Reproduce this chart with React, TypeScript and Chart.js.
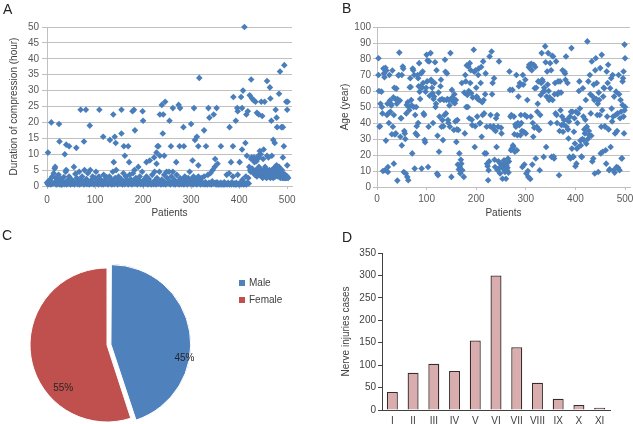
import React, { useEffect, useRef } from "react";
import { Chart, registerables } from "chart.js";

Chart.register(...registerables);

const FONT = "'Liberation Sans', Arial, Helvetica, sans-serif";
const FS = 10;
Chart.defaults.font.family = FONT;
Chart.defaults.font.size = FS;

// ---------- DATA ----------
const patientTicks = [0, 100, 200, 300, 400, 500];

// Panel A: duration of compression (hour) per patient – higher values
const durationHigh: [number, number][] = [
  [2,10.5],[9,20],[25,19.5],[26,14],[37,10],[40,13],[46,12.5],[40,5],[61,12],[70,24],[81,24],[77,14],[89,19],
  [109,24],[117,15.5],[131,14.5],[138,22.5],[141,15.5],[143,13.5],[139,7.5],[155,24],[155,16.5],[160,12.5],
  [162,9.5],[169,12.5],[171,7.5],[178,23.5],[181,24],[183,17.5],[199,23.5],[200,20.5],[207,7.5],[214,8],[223,9],
  [228,10.5],[230,12.5],[232,12.5],[228,7],[235,22.5],[239,25.5],[241,16.5],[242,22.5],[246,26.5],[235,9.5],
  [244,9.5],[255,20.5],[258,12.5],[262,24.5],[269,7.5],[274,25.5],[277,24.5],[276,12.5],[284,18.5],[285,12.5],
  [300,19.5],[303,8],[306,24.5],[308,14.5],[312,15.5],[315,12.5],[315,6.5],[317,34],[327,17.5],[331,12.5],
  [336,24.5],[338,21.5],[347,22.5],[350,8.5],[353,24.5],[355,7],[362,12.5],[380,18.5],[383,7.5],[388,28],
  [387,12.5],[393,20.5],[396,24.5],[397,23.5],[401,7.5],[404,28],[406,24.5],[408,30],[406,11.5],[411,50],
  [413,13.5],[415,22.5],[418,23.5],[422,28.5],[425,33.5],[427,27.5],[430,27],[434,26.5],[437,23],[441,22.5],
  [446,26.5],[448,22],[453,26.5],[458,33],[464,31],[465,27.5],[467,20.5],[471,14.5],[474,13.5],[476,24],
  [478,21.5],[479,18.5],[483,29],[485,36],[488,18.5],[491,18.5],[494,38],[493,12.5],[498,26.5],[501,26.5],
  [500,24],[500,6.5],[491,9],[416,9.5],[431,9],[441,9],[451,11.5],[458,9.5],[468,9.5],[425,8.5]
];

// Panel A: low values (dense band near the axis)
const durationLow: [number, number][] = [
  [0,1],[2,0.5],[3,1.5],[5,0.8],[6,2],[8,0.5],[9,1.2],[11,3],[12,0.7],[14,4],[15,1],[16,5.5],[17,6],[18,2.5],
  [19,0.5],[21,1.8],[22,0.6],[24,3.5],[25,1],[27,0.5],[28,2.2],[30,1],[31,0.4],[33,1.5],[35,2.8],[36,0.6],
  [38,1],[39,4.5],[41,0.5],[43,1.8],[44,0.8],[46,3],[48,1.2],[49,0.5],[51,2],[53,0.7],[55,1.5],[56,6],[57,0.5],
  [59,3.8],[60,1],[62,2.5],[64,0.6],[65,1.2],[67,4.5],[68,0.5],[70,2],[72,0.8],[73,3],[75,1.5],[77,0.5],[78,5],
  [80,1],[82,2.2],[83,0.6],[85,4],[87,1.2],[88,0.5],[90,5],[92,1.8],[93,0.7],[95,3],[97,1],[98,0.5],[100,2.5],
  [102,4.5],[103,0.8],[105,1.5],[107,0.5],[108,3],[110,1],[112,2],[113,0.6],[115,1.2],[117,0.5],[118,3.5],
  [120,1.8],[122,0.7],[124,2.8],[125,1],[127,0.5],[129,1.5],[130,3],[132,0.8],[134,2],[135,0.5],[137,4.5],
  [139,1.2],[140,0.6],[142,2.5],[144,5],[145,1],[147,0.5],[149,3],[150,1.8],[152,0.7],[154,2.2],[155,1],
  [157,0.5],[159,4],[160,1.5],[162,0.6],[164,3],[165,1],[167,2],[169,0.5],[170,1.2],[172,3.5],[174,0.8],[175,2],
  [177,0.5],[179,4],[180,1.5],[182,5],[183,0.7],[185,2.5],[187,1],[188,0.5],[190,6],[192,1.8],[193,3],[195,0.6],
  [197,1.2],[198,4.5],[200,0.5],[202,2],[204,1],[205,0.7],[207,3],[209,1.5],[210,0.5],[212,2.2],[214,0.8],
  [215,1.2],[217,0.5],[219,3.5],[220,1],[222,0.6],[224,4.5],[225,1.8],[227,0.5],[229,2.5],[230,1],[232,0.7],
  [234,4.5],[235,1.5],[237,0.5],[239,2],[240,1],[242,0.6],[244,3.5],[245,1.2],[247,0.5],[249,4.5],[250,2.5],
  [252,0.8],[254,4.5],[255,1.5],[257,0.5],[259,3],[260,1],[262,4.5],[264,0.6],[265,2],[267,0.5],[269,1.2],
  [270,3.5],[272,0.8],[274,1.5],[275,0.5],[277,2.5],[279,1],[280,0.6],[282,2],[284,1.2],[285,0.5],[287,3],
  [289,0.8],[290,1.5],[292,0.5],[294,2.5],[295,1],[297,4.5],[299,0.6],[300,2],[302,1],[304,0.5],[305,3],
  [307,1.5],[309,0.7],[310,2.2],[312,0.5],[314,1.2],[315,3],[317,0.8],[319,1.8],[320,0.5],[322,2.5],[324,1],
  [325,0.6],[327,3],[329,0.5],[330,1.2],[332,0.8],[334,0.5],[335,3.5],[337,1],[339,0.6],[340,4],[342,0.5],
  [344,1.5],[345,5],[347,0.7],[349,6],[350,1],[352,0.5],[354,1.2],[355,0.6],[357,0.5],[359,0.8],[360,0.5],
  [362,1],[364,0.5],[365,0.7],[367,0.5],[369,1.2],[370,0.5],[372,0.8],[374,3.5],[375,0.5],[377,1],[379,4],
  [380,0.5],[382,0.7],[384,0.5],[385,1.2],[387,3],[389,0.5],[390,0.8],[392,0.5],[394,1],[395,0.5],[397,3.5],
  [399,0.6],[400,0.5],[402,1],[404,0.5],[405,0.8],[407,2],[409,0.5],[410,1.2],[412,0.6],[414,3],[415,0.5],
  [417,1],[419,2.5],[420,0.8]
];

// Panel A: band of mid values for the last patients
const durationBand: [number, number][] = [
  [421,6],[423,5],[424,4.5],[426,9],[427,5.5],[428,8.5],[430,4],[431,8],[432,7.5],[433,3.5],[434,8],[435,5],
  [436,7.8],[437,3],[438,8.5],[439,4.5],[440,9.5],[441,6],[442,3.5],[443,11],[444,4],[445,10],[446,5],[447,3],
  [448,4.5],[449,2.5],[450,8.5],[451,3.5],[452,5],[453,4],[454,6],[455,3],[456,4.5],[457,2.5],[458,5],[459,3.5],
  [460,4],[461,9],[462,3],[463,5],[464,4],[465,2.5],[466,4.5],[467,3.5],[468,5],[469,3],[470,4],[471,2.5],
  [472,5.5],[473,3],[474,4.5],[475,6],[476,3],[477,5],[478,6.5],[479,4],[480,5.5],[481,3],[482,4.5],[483,6],
  [484,3.5],[485,5],[486,2.5],[487,4],[488,3],[489,5],[490,2.5],[491,3.5],[492,4],[493,2.5],[494,3],[495,2.5],
  [496,3.5],[497,2.5],[498,3],[499,2.5],[500,3],[502,2.5]
];

// Panel B: age (year) per patient
const agePoints: [number, number][] = [
  [3,80.5],[3,70],[4,60],[5,37.7],[6,38],[9,59.6],[10,50],[11,46],[12,10],[13,74],[15,68.6],[16,10.5],[18,29],
  [19,72.8],[20,45],[22,12.5],[22,9.4],[24,40],[26,54],[27,47],[29,51],[31,72.8],[32,37.7],[34,45],[34,14.6],
  [36,32.8],[38,33.5],[39,61.5],[40,52],[41,55],[41,4],[43,69.7],[45,84],[46,54],[47,31.4],[48,43],[50,70],
  [50,26],[52,75.3],[54,9.4],[56,33.5],[58,8.4],[59,46],[60,51.3],[61,6.3],[63,4.2],[65,48],[66,62.3],[67,68],
  [69,54.4],[71,21],[73,73],[75,70],[76,11.5],[78,33.5],[79,50],[81,32.4],[83,40],[83,68],[85,77.4],[86,59.6],
  [88,62.8],[90,11.5],[92,72.2],[93,65],[94,46],[96,29.3],[98,59.6],[100,82.6],[101,66],[103,12.5],[104,37.7],
  [105,78.5],[108,83.7],[110,66],[112,58.6],[113,40],[115,56.5],[116,65],[118,50],[120,73],[121,8.4],[123,7.3],
  [125,22],[127,54.4],[129,67],[130,37.7],[132,41.8],[133,29.3],[135,54.4],[137,79.5],[139,46],[140,54.4],
  [141,71],[143,41.8],[145,54.4],[147,37.7],[148,83.7],[150,6.3],[151,60.7],[153,54.4],[155,35.6],[157,52.3],
  [159,54.4],[160,28.2],[162,41.8],[164,35.6],[166,21],[167,12.5],[168,8.4],[170,14.6],[172,10.5],[175,6.3],
  [177,33.5],[179,66],[180,50],[182,57.5],[184,75.3],[186,43],[187,77.4],[188,65],[190,58.6],[192,38.7],
  [195,85.8],[197,25],[199,73],[201,56.5],[202,44],[204,70],[206,54.4],[207,39.7],[209,65],[211,31.4],[213,45],
  [214,78.5],[215,54.4],[217,21],[219,71],[221,37.7],[222,14.6],[224,4.2],[225,10.5],[227,81.6],[229,45],
  [231,84.7],[233,65],[234,36.6],[236,68],[238,12.5],[240,43],[241,25],[243,10.5],[244,37.7],[246,78.5],
  [248,8.4],[249,14.6],[251,33.5],[253,5.2],[254,11.5],[256,16.7],[258,9.4],[260,5.2],[261,13.6],[262,10.5],
  [264,17.8],[267,72.2],[268,60.7],[270,23],[271,45],[273,60.7],[275,25],[276,44],[278,22],[280,37.7],[281,70],
  [283,32.4],[285,56.5],[287,38.7],[288,65],[289,32.4],[291,40],[293,12.5],[295,64],[296,34.5],[298,45],
  [300,33.5],[301,8.4],[303,54.4],[305,6.3],[307,76.4],[308,74.3],[310,44],[312,73],[314,40],[315,31.4],
  [316,76.4],[318,61.7],[320,17.8],[322,37.7],[323,47],[325,66],[327,35.6],[328,10.5],[330,57.5],[332,83.7],
  [334,66],[335,59.6],[336,18.8],[339,87.9],[341,25],[342,56.5],[343,72.2],[345,83.7],[347,54.4],[349,77.4],
  [350,40],[352,18.8],[354,54.4],[355,81.6],[357,17.8],[359,65],[361,78.5],[362,45],[363,40],[365,66],[367,7.3],
  [369,66],[370,48],[372,38.7],[374,73],[375,34.5],[377,41.8],[379,71],[381,81.6],[382,37.7],[384,65],[386,30.3],
  [388,18.8],[389,44],[390,17.8],[392,86.8],[394,47],[396,18.8],[397,34.5],[399,27.2],[401,47],[402,14.6],
  [404,40],[406,25],[408,66],[409,49],[411,26],[413,18.8],[415,61.7],[416,44],[417,29.3],[419,33.5],[421,54.4],
  [423,37.7],[424,91],[426,66],[428,32.4],[429,70],[431,46],[433,78.5],[435,56.5],[436,17.8],[438,54.4],
  [439,8.4],[441,80.5],[443,65],[444,45],[446,9.4],[448,54.4],[450,74.3],[452,37.7],[453,82.6],[455,22],
  [456,56.5],[458,61.7],[460,37.7],[462,14.6],[463,72.2],[464,44],[466,76.4],[468,10.5],[470,61.7],[471,25],
  [473,49],[475,70],[477,10.5],[478,56.5],[480,33.5],[482,59.6],[483,12.5],[485,46],[487,70],[489,10.5],
  [490,43],[491,54.4],[493,17.8],[495,66],[495,51.3],[497,72.2],[498,33.5],[499,89],[500,80.5],[500,50],[497,44],
  [7,52],[14,71],[17,74.5],[21,52],[23,46],[25,70],[28,52],[30,33],[33,56],[35,62],[37,55],[44,70],[49,43],
  [53,74],[55,35],[57,30],[62,53],[64,50],[68,62.5],[70,51],[72,74],[74,50],[77,45],[80,38],[82,70],[84,63],
  [87,55],[89,71],[91,62],[95,45],[97,28],[99,62],[102,79],[106,57],[109,67],[111,62],[114,55],[117,78],
  [119,52],[122,32],[124,59],[126,44],[128,63],[131,55],[134,38],[136,45],[138,72],[142,55],[144,40],[146,51],
  [149,55],[152,56],[154,53],[156,58],[158,41],[161,36],[163,14],[165,11],[169,17],[171,65],[176,59],[178,70],
  [181,76],[183,50],[185,60],[189,73],[191,42],[193,56],[196,72],[198,38],[200,62],[203,55],[205,74],[208,40],
  [210,75],[212,53],[216,46],[218,58],[220,21],[223,13],[226,16],[228,38],[232,58],[235,38],[237,17],[239,35],
  [242,45],[245,16],[247,12],[250,37],[252,14],[255,13],[257,11],[259,15],[263,12],[265,9],[266,16],[269,44],
  [272,24],[274,26],[277,33],[279,39],[282,23],[284,40],[286,63],[290,45],[292,35],[294,70],[297,14],[299,67],
  [302,44],[304,10],[306,75],[309,5],[311,77],[313,14],[317,37],[319,75],[321,62],[324,52],[326,36],[329,45],
  [331,65],[333,67],[337,62],[338,60],[340,78],[344,64],[346,60],[348,56],[351,73],[353,82],[356,19],[358,58],
  [360,46],[364,58],[366,59],[368,35],[371,59],[373,44],[376,39],[378,72],[380,67],[383,42],[385,36],[387,41],
  [391,47],[393,24],[395,19],[398,43],[400,13],[403,24],[405,46],[407,60],[410,29],[412,19],[414,30],[418,36],
  [420,42],[422,27],[425,30],[427,35],[430,58],[432,32],[434,16],[437,64],[440,73],[442,55],[445,52],[447,59],
  [449,45],[451,21],[454,48],[457,62],[459,38],[461,23],[465,65],[467,36],[469,11],[472,68],[474,41],[476,44],
  [479,9],[481,45],[484,35],[486,12],[488,58],[492,47],[494,18],[496,68],[499,48]
];

// Panel C
const sexLabels = ["Male", "Female"];
const sexShares = [45, 55];
const sexColors = ["#4f81bd", "#c0504d"];

// Panel D
const nerveLabels = ["I", "II", "III", "IV", "V", "VI", "VII", "VIII", "IX", "X", "XI"];
const nerveCases = [40, 83, 103, 87, 155, 300, 140, 61, 25, 11, 5];

// ---------- HELPERS ----------
const TICK = "#595959";
const TITLE = "#404040";
const GRID = "#c0c0c0";
const BLUE = "#4a7ebb";

function ChartCanvas({ config, style, width, height }: any) {
  const ref = useRef<HTMLCanvasElement | null>(null);
  useEffect(() => {
    if (!ref.current) return;
    const chart = new Chart(ref.current, config);
    return () => chart.destroy();
  }, []);
  return (
    <canvas
      ref={ref}
      width={width}
      height={height}
      style={{ position: "absolute", width, height, ...style }}
    />
  );
}

function scatterConfig(opts: any) {
  const { points, yMax, yStep, yTitle, yWidth, yTitlePad, xHeight, padRight, yTickPad, yTickLen, xTickPad } = opts;
  return {
    type: "scatter",
    data: {
      datasets: [
        {
          data: points.map(([x, y]: [number, number]) => ({ x, y })),
          pointStyle: "rectRot",
          radius: 3.3,
          backgroundColor: BLUE,
          borderColor: BLUE,
          borderWidth: 0,
          clip: false,
        },
      ],
    },
    options: {
      animation: false,
      responsive: false,
      events: [],
      layout: { padding: { top: 27, left: 0, right: padRight, bottom: 0 } },
      plugins: { legend: { display: false }, tooltip: { enabled: false } },
      scales: {
        x: {
          type: "linear",
          min: 0,
          max: 510,
          afterBuildTicks: (s: any) => {
            s.ticks = patientTicks.map((v) => ({ value: v }));
          },
          afterFit: (s: any) => {
            s.height = xHeight;
          },
          grid: { display: true, drawOnChartArea: false, color: GRID, tickLength: 3 },
          border: { color: GRID },
          ticks: { color: TICK, padding: xTickPad, maxRotation: 0, autoSkip: false, font: { size: FS } },
          title: { display: true, text: "Patients", color: TITLE, font: { size: FS }, padding: { top: 0, bottom: 3 } },
        },
        y: {
          min: 0,
          max: yMax,
          ticks: { stepSize: yStep, autoSkip: false, color: TICK, padding: yTickPad, font: { size: FS } },
          grid: { color: GRID, tickLength: yTickLen },
          border: { color: GRID },
          afterFit: (s: any) => {
            s.width = yWidth;
          },
          title: { display: true, text: yTitle, color: TITLE, font: { size: FS }, padding: { top: yTitlePad, bottom: 0 } },
        },
      },
    },
  };
}

const pieLabelFractions = [0.62, 0.32];
const pieLabelRadii = [0.97, 0.8];

const pieLabelPlugin = {
  id: "pieLabels",
  afterDatasetsDraw(chart: any) {
    const meta = chart.getDatasetMeta(0);
    const ctx = chart.ctx;
    ctx.save();
    ctx.font = `${FS}px ${FONT}`;
    ctx.fillStyle = "#262626";
    ctx.textAlign = "center";
    ctx.textBaseline = "middle";
    meta.data.forEach((arc: any, i: number) => {
      const p = arc.getProps(["x", "y", "startAngle", "endAngle", "outerRadius"], true);
      const a = p.startAngle + (p.endAngle - p.startAngle) * pieLabelFractions[i];
      const r = p.outerRadius * pieLabelRadii[i];
      const mid = (p.startAngle + p.endAngle) / 2;
      const off = (arc.options.offset || 0) / 4;
      const cx = p.x + Math.cos(mid) * off;
      const cy = p.y + Math.sin(mid) * off;
      ctx.fillText(`${sexShares[i]}%`, cx + Math.cos(a) * r, cy + Math.sin(a) * r);
    });
    ctx.restore();
  },
};

const configA = scatterConfig({
  points: [...durationLow, ...durationBand, ...durationHigh],
  yMax: 50,
  yStep: 5,
  yTitle: "Duration of compression (hour)",
  yWidth: 47,
  yTitlePad: 8,
  xHeight: 36,
  padRight: 28,
  yTickPad: 3,
  yTickLen: 5,
  xTickPad: 5,
});

const configB = scatterConfig({
  points: agePoints,
  yMax: 100,
  yStep: 10,
  yTitle: "Age (year)",
  yWidth: 57,
  yTitlePad: 19,
  xHeight: 35,
  padRight: 23,
  yTickPad: 2,
  yTickLen: 4,
  xTickPad: 3,
});

const configC = {
  type: "pie",
  data: {
    labels: sexLabels,
    datasets: [
      {
        data: sexShares,
        backgroundColor: sexColors,
        borderColor: "#ffffff",
        borderWidth: 1,
        offset: [16, 0],
        radius: 77,
      },
    ],
  },
  options: {
    animation: false,
    responsive: false,
    events: [],
    radius: 77,
    layout: { padding: { left: 0, right: 106, top: 46, bottom: 0 } },
    plugins: { legend: { display: false }, tooltip: { enabled: false } },
  },
  plugins: [pieLabelPlugin],
};

const configD = {
  type: "bar",
  data: {
    labels: nerveLabels,
    datasets: [
      {
        data: nerveCases,
        backgroundColor: "#d9adad",
        borderColor: "#3a2a2a",
        borderWidth: 1.3,
        barPercentage: 0.53,
        categoryPercentage: 1,
      },
    ],
  },
  options: {
    animation: false,
    responsive: false,
    events: [],
    layout: { padding: { top: 33, left: 0, right: 23, bottom: 0 } },
    plugins: { legend: { display: false }, tooltip: { enabled: false } },
    scales: {
      x: {
        grid: { display: false, drawTicks: false },
        border: { color: "#404040" },
        ticks: { color: TITLE, padding: 5, autoSkip: false, minRotation: 0, maxRotation: 0, font: { size: FS } },
        afterFit: (s: any) => {
          s.height = 25;
        },
      },
      y: {
        min: 0,
        max: 350,
        ticks: { stepSize: 50, autoSkip: false, color: TITLE, padding: 2, font: { size: FS } },
        grid: { display: true, drawOnChartArea: false, color: "#404040", tickLength: 4 },
        border: { color: "#404040" },
        afterFit: (s: any) => {
          s.width = 62;
        },
        title: { display: true, text: "Nerve injuries cases", color: TITLE, font: { size: FS }, padding: { top: 20, bottom: 0 } },
      },
    },
  },
};

const letterStyle: React.CSSProperties = {
  position: "absolute",
  fontFamily: FONT,
  fontSize: 14,
  color: "#222",
  lineHeight: "16px",
};

const legendText: React.CSSProperties = {
  position: "absolute",
  fontFamily: FONT,
  fontSize: FS,
  color: "#404040",
  lineHeight: "12px",
  whiteSpace: "nowrap",
};

export default function App() {
  return (
    <div
      style={{
        position: "fixed",
        left: 0,
        top: 0,
        width: 633,
        height: 424,
        overflow: "hidden",
        background: "#fff",
      }}
    >
      <ChartCanvas config={configA} width={320} height={222} style={{ left: 0, top: 0 }} />
      <ChartCanvas config={configB} width={333} height={222} style={{ left: 320, top: 0 }} />
      <ChartCanvas config={configC} width={320} height={204} style={{ left: 0, top: 220 }} />
      <ChartCanvas config={configD} width={313} height={215} style={{ left: 320, top: 220 }} />

      <div style={{ ...letterStyle, left: 3, top: 1 }}>A</div>
      <div style={{ ...letterStyle, left: 342, top: 0 }}>B</div>
      <div style={{ ...letterStyle, left: 2, top: 227 }}>C</div>
      <div style={{ ...letterStyle, left: 342, top: 229 }}>D</div>

      {sexLabels.map((lab, i) => (
        <React.Fragment key={lab}>
          <div
            style={{
              position: "absolute",
              left: 239,
              top: 280 + i * 16.6,
              width: 6,
              height: 6,
              background: sexColors[i],
            }}
          />
          <div style={{ ...legendText, left: 249, top: 277 + i * 16.6 }}>{lab}</div>
        </React.Fragment>
      ))}
    </div>
  );
}
